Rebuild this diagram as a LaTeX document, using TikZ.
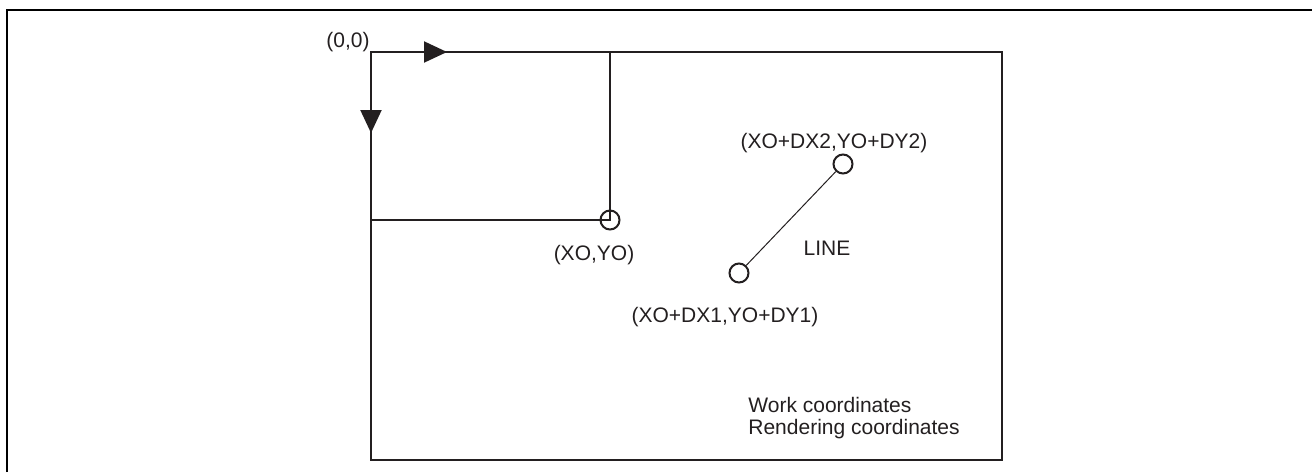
\documentclass[tikz,border=0pt]{standalone}
\usepackage{fontspec}
\setmainfont{Liberation Sans}
\usepackage{tikz}
\usetikzlibrary{arrows.meta}
\definecolor{myink}{RGB}{35,31,32}

\tikzset{
  endpt/.style={circle, draw=myink, line width=1pt, minimum size=9.5pt, inner sep=0pt},
  lbl/.style={inner sep=0pt, text=myink},
  axis/.style={myink, line width=1pt, -{Triangle[length=11.5pt,width=10.5pt]}}
}

\begin{document}
\begin{tikzpicture}[x=0.5pt, y=-0.5pt, font=\fontsize{10.5}{12.6}\selectfont]
  \useasboundingbox (0,0) rectangle (1312,472);
  % Outer frame
  \draw[black, line width=1pt] (7,472) -- (7,10) -- (1312,10);
  % Rendering area and work area
  \draw[myink, line width=1.1pt] (371,52) rectangle (1002,460);
  \draw[myink, line width=1pt] (371,220) -- (610,220) -- (610,52);
  % Origin and axis arrows
  \coordinate (orig) at (371,52);
  \coordinate (xdir) at (447,52);
  \coordinate (ydir) at (371,133);
  \draw[axis] (orig) -- (xdir);
  \draw[axis] (orig) -- (ydir);
  % Points and line
  \node[endpt] (xo) at (610,220) {};
  \node[endpt] (p1) at (739,273) {};
  \node[endpt] (p2) at (843,164) {};
  \draw[myink, line width=0.5pt] (p1) -- (p2);
  % Labels
  \node[lbl] (lorig) at (348,42) {(0,0)};
  \node[lbl] (lxo) at (594,255) {(XO,YO)};
  \node[lbl] (lp1) at (725,317) {(XO+DX1,YO+DY1)};
  \node[lbl] (lp2) at (834,143) {(XO+DX2,YO+DY2)};
  \node[lbl] (lline) at (827,248) {LINE};
  \node[lbl, anchor=base west] (lwork) at (748,412) {Work coordinates};
  \node[lbl, anchor=base west] (lrend) at (748,434) {Rendering coordinates};
\end{tikzpicture}
\end{document}
